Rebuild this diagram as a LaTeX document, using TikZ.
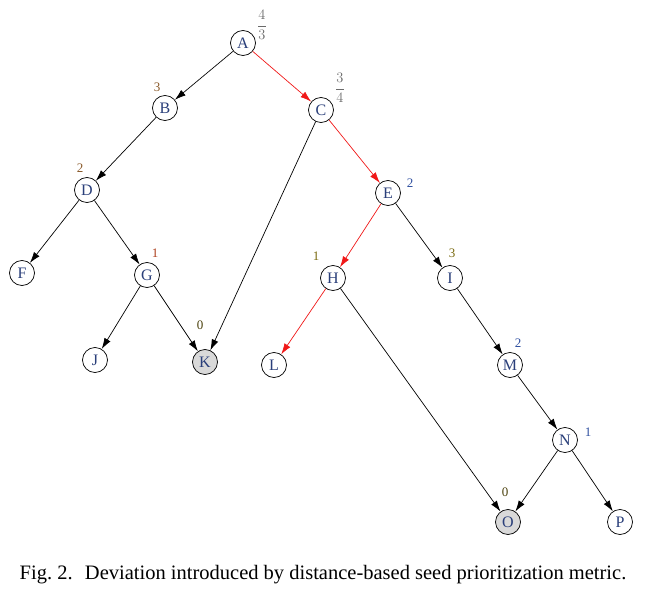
\documentclass[tikz,border=0pt]{standalone}
\usepackage{fontspec}
\setmainfont{Liberation Serif}
\usepackage{xcolor}
\usetikzlibrary{arrows.meta}

\begin{document}
\begin{tikzpicture}[x=1pt,y=-1pt,
  nodo/.style={circle, draw=black, line width=0.7pt, fill=white, minimum size=25pt, inner sep=0pt, font=\fontsize{16}{16}\selectfont, text=colLett},
  seme/.style={nodo, fill=colSeed},
  arco/.style={-{Latex[length=11pt,width=7pt]}, line width=0.7pt, black},
  arcoRosso/.style={arco, colRed},
  etich/.style={font=\fontsize{13}{13}\selectfont}]

% Colori
\definecolor{colLett}{HTML}{2A3F7A}
\definecolor{colSeed}{HTML}{D9D9D9}
\definecolor{colRed}{HTML}{F01818}
\definecolor{colBrown}{HTML}{8A5A2A}
\definecolor{colOlive}{HTML}{7A6A10}
\definecolor{colBlue}{HTML}{3050A0}
\definecolor{colGray}{HTML}{6A6A6A}

\useasboundingbox (0,0) rectangle (646,594);

% Nodi
\node[nodo] (A) at (243,43) {A};
\node[nodo] (B) at (165,108) {B};
\node[nodo] (C) at (321,110) {C};
\node[nodo] (D) at (87,190) {D};
\node[nodo] (E) at (388,193) {E};
\node[nodo] (F) at (22,273) {F};
\node[nodo] (G) at (147,275) {G};
\node[nodo] (H) at (333,278) {H};
\node[nodo] (I) at (450,278) {I};
\node[nodo] (J) at (95,360) {J};
\node[seme] (K) at (205,362) {K};
\node[nodo] (L) at (274,365) {L};
\node[nodo] (M) at (510,365) {M};
\node[nodo] (N) at (565,440) {N};
\node[seme] (O) at (508,522) {O};
\node[nodo] (P) at (620,522) {P};

% Archi
\draw[arco] (A) -- (B);
\draw[arcoRosso] (A) -- (C);
\draw[arco] (B) -- (D);
\draw[arco] (C) -- (K);
\draw[arcoRosso] (C) -- (E);
\draw[arco] (D) -- (F);
\draw[arco] (D) -- (G);
\draw[arcoRosso] (E) -- (H);
\draw[arco] (E) -- (I);
\draw[arco] (G) -- (J);
\draw[arco] (G) -- (K);
\draw[arcoRosso] (H) -- (L);
\draw[arco] (H) -- (O);
\draw[arco] (I) -- (M);
\draw[arco] (M) -- (N);
\draw[arco] (N) -- (O);
\draw[arco] (N) -- (P);

% Distanze
\node[etich, text=colGray, font=\fontsize{14}{14}\selectfont] (lA) at (262,25) {$\displaystyle\frac{4}{3}$};
\node[etich, text=colGray, font=\fontsize{14}{14}\selectfont] (lC) at (340,88) {$\displaystyle\frac{3}{4}$};
\node[etich, text=colBrown] (lB) at (157,87) {3};
\node[etich, text=colBrown] (lD) at (80,168) {2};
\node[etich, text=colBlue] (lE) at (410,183) {2};
\node[etich, text=colBrown!70!red] (lG) at (155,253) {1};
\node[etich, text=colOlive] (lH) at (316,256) {1};
\node[etich, text=colOlive] (lI) at (452,253) {3};
\node[etich, text=colBlue] (lM) at (518,343) {2};
\node[etich, text=colBlue] (lN) at (588,432) {1};
\node[etich, text=colOlive!60!black] (lK) at (200,325) {0};
\node[etich, text=colOlive!60!black] (lO) at (505,492) {0};

% Didascalia
\node[font=\fontsize{20.5}{20.5}\selectfont] (cap) at (323,575) {Fig.~2.\hspace{0.6em}Deviation introduced by distance-based seed prioritization metric.};

\end{tikzpicture}
\end{document}
